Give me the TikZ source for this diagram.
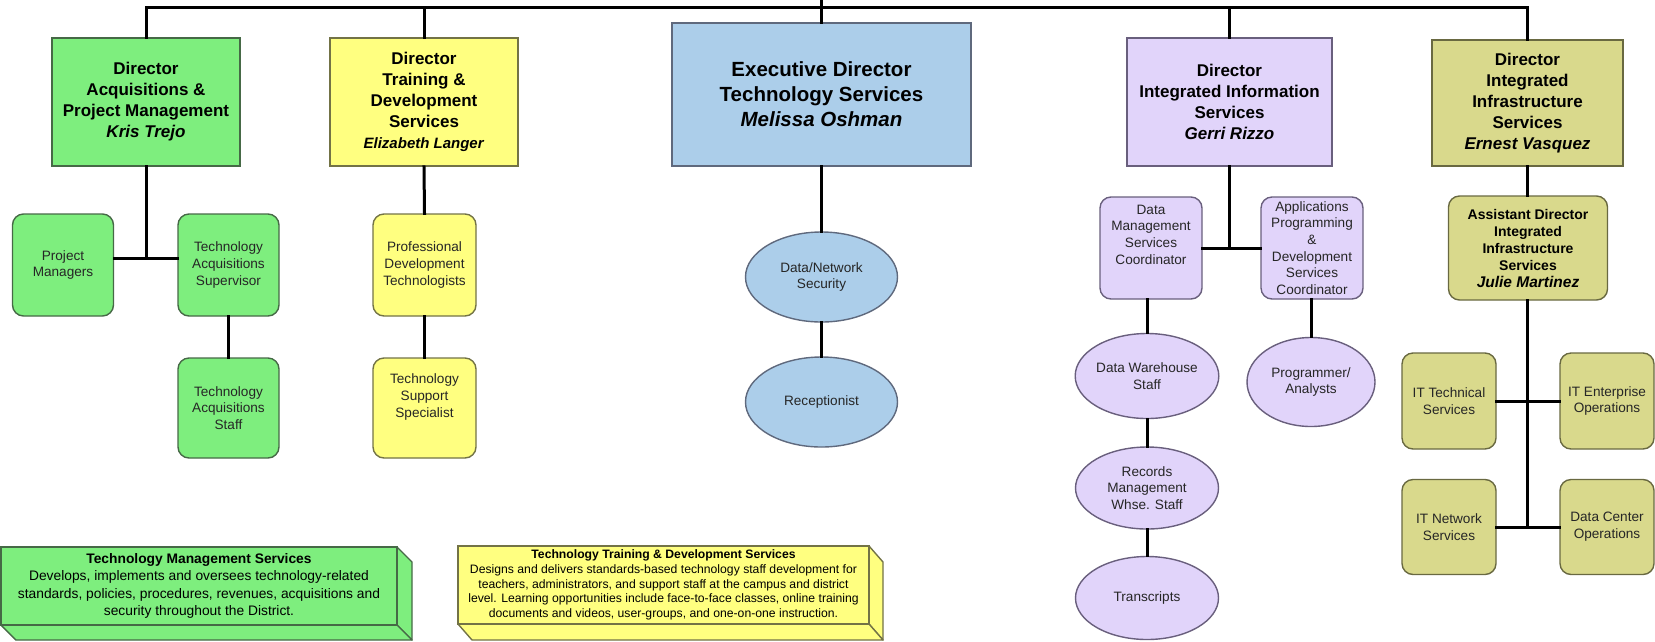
\documentclass[tikz,border=0pt]{standalone}
\usepackage{fontspec}
\setmainfont{Liberation Sans}
\usetikzlibrary{shapes.geometric}
\definecolor{cgreen}{RGB}{126,238,126}
\definecolor{bgreen}{RGB}{70,105,70}
\definecolor{cyellow}{RGB}{255,255,128}
\definecolor{byellow}{RGB}{115,115,70}
\definecolor{cblue}{RGB}{172,206,234}
\definecolor{bblue}{RGB}{95,105,125}
\definecolor{clav}{RGB}{225,212,250}
\definecolor{blav}{RGB}{105,95,125}
\definecolor{colive}{RGB}{217,217,140}
\definecolor{bolive}{RGB}{105,105,65}
\begin{document}
\begin{tikzpicture}[x=1pt,y=-1pt,
  dirbox/.style={draw, rectangle, line width=1.6pt, inner sep=0pt, align=center,
    font=\bfseries\fontsize{17}{21}\selectfont},
  smallbox/.style={draw, rectangle, rounded corners=11pt, line width=1.4pt, inner sep=0pt,
    align=center, text=black!85, font=\fontsize{13.6}{16.7}\selectfont},
  oval/.style={draw, ellipse, line width=1.4pt, inner sep=0pt, align=center,
    text=black!85, font=\fontsize{13.6}{16.7}\selectfont},
  note/.style={draw, rectangle, line width=1.4pt, inner sep=0pt, align=center},
  conn/.style={line width=3pt, line join=miter, line cap=rect},
  green/.style={fill=cgreen, draw=bgreen},
  yellow/.style={fill=cyellow, draw=byellow},
  blue/.style={fill=cblue, draw=bblue},
  lav/.style={fill=clav, draw=blav},
  olive/.style={fill=colive, draw=bolive}]
\useasboundingbox (0,0) rectangle (1655,641);

% ---- Directors ----
\node[dirbox, green, minimum width=188pt, minimum height=128pt] (acq) at (146,102)
  {Director\\Acquisitions \&\\Project Management\\\textit{Kris Trejo}};
\node[dirbox, yellow, minimum width=188pt, minimum height=128pt] (trn) at (424,102)
  {Director\\Training \&\\Development\\Services\\{\fontsize{15}{20}\selectfont\textit{Elizabeth Langer}}};
\node[dirbox, blue, minimum width=299pt, minimum height=143pt,
  font=\bfseries\fontsize{20.5}{25}\selectfont] (exe) at (821.5,94.5)
  {Executive Director\\Technology Services\\\textit{Melissa Oshman}};
\node[dirbox, lav, minimum width=205pt, minimum height=128pt] (iis) at (1229.5,102)
  {Director\\Integrated Information\\Services\\\textit{Gerri Rizzo}};
\node[dirbox, olive, minimum width=191pt, minimum height=126pt] (inf) at (1527.5,103)
  {Director\\Integrated\\Infrastructure\\Services\\\textit{Ernest Vasquez}};

% ---- Acquisitions ----
\node[smallbox, green, minimum width=101pt, minimum height=102pt] (pm) at (63,265) {Project\\Managers};
\node[smallbox, green, minimum width=101pt, minimum height=102pt] (tas) at (228.5,265) {Technology\\Acquisitions\\Supervisor};
\node[smallbox, green, minimum width=101pt, minimum height=100pt] (tast) at (228.5,408) {Technology\\Acquisitions\\Staff};

% ---- Training ----
\node[smallbox, yellow, minimum width=103pt, minimum height=102pt] (pdt) at (424.5,265) {Professional\\Development\\Technologists};
\node[smallbox, yellow, minimum width=103pt, minimum height=100pt] (tss) at (424.5,408) {Technology\\Support\\Specialist\\[8pt]};

% ---- Executive ----
\node[oval, blue, minimum width=152pt, minimum height=90pt] (dns) at (821.5,277) {Data/Network\\Security};
\node[oval, blue, minimum width=152pt, minimum height=90pt] (rec) at (821.5,402) {Receptionist};

% ---- Integrated Information ----
\node[smallbox, lav, minimum width=102pt, minimum height=102pt] (dmsc) at (1151,248) {Data\\Management\\Services\\Coordinator\\[10pt]};
\node[smallbox, lav, minimum width=102pt, minimum height=102pt] (apdsc) at (1312,248)
  {Applications\\Programming\\\&\\Development\\Services\\Coordinator};
\node[oval, lav, minimum width=143pt, minimum height=85pt] (dws) at (1147,376) {Data Warehouse\\Staff};
\node[oval, lav, minimum width=143pt, minimum height=82pt] (rmw) at (1147,488) {Records\\Management\\Whse. Staff};
\node[oval, lav, minimum width=143pt, minimum height=83pt] (trs) at (1147,598) {Transcripts};
\node[oval, lav, minimum width=128pt, minimum height=89pt] (pa) at (1311,382) {Programmer/\\Analysts};

% ---- Infrastructure ----
\node[smallbox, olive, minimum width=159pt, minimum height=104pt,
  font=\bfseries\fontsize{14}{17}\selectfont, text=black] (ad) at (1528,248)
  {Assistant Director\\Integrated\\Infrastructure\\Services\\{\fontsize{15.5}{19}\selectfont\textit{Julie Martinez}}};
\node[smallbox, olive, minimum width=94pt, minimum height=96pt] (itt) at (1449,401) {IT Technical\\Services};
\node[smallbox, olive, minimum width=94pt, minimum height=96pt] (ite) at (1607,401) {IT Enterprise\\Operations};
\node[smallbox, olive, minimum width=94pt, minimum height=95pt] (itn) at (1449,527) {IT Network\\Services};
\node[smallbox, olive, minimum width=94pt, minimum height=95pt] (dco) at (1607,527) {Data Center\\Operations};

% ---- Notes ----
\draw[green, line width=1.4pt, line join=round] (199,547) ++(198,0) -- ++(15,15) -- ++(0,78) -- ++(-15,-15) -- cycle;
\draw[green, line width=1.4pt, line join=round] (1,625) -- ++(396,0) -- ++(15,15) -- ++(-396,0) -- cycle;
\node[note, green, minimum width=396pt, minimum height=78pt,
  font=\fontsize{13.8}{17.4}\selectfont] (tms) at (199,586)
  {\textbf{Technology Management Services}\\Develops, implements and oversees technology-related\\standards, policies, procedures, revenues, acquisitions and\\security throughout the District.};

\draw[yellow, line width=1.4pt, line join=round] (869,546) -- ++(14,16) -- ++(0,78) -- ++(-14,-16) -- cycle;
\draw[yellow, line width=1.4pt, line join=round] (458,624) -- ++(411,0) -- ++(14,16) -- ++(-411,0) -- cycle;
\node[note, yellow, minimum width=411pt, minimum height=78pt,
  font=\fontsize{12.2}{14.8}\selectfont] (ttd) at (663.5,585)
  {\textbf{Technology Training \& Development Services}\\Designs and delivers standards-based technology staff development for\\teachers, administrators, and support staff at the campus and district\\level. Learning opportunities include face-to-face classes, online training\\documents and videos, user-groups, and one-on-one instruction.};

% ---- Connectors ----
\coordinate (topin) at (821.5,0);
\coordinate (bar) at (0,7.5);
\draw[conn] (acq.north) -- (acq.north |- bar) -- (inf.north |- bar) -- (inf.north);
\draw[conn] (topin) -- (exe.north);
\draw[conn] (trn.north |- bar) -- (trn.north);
\draw[conn] (iis.north |- bar) -- (iis.north);

\coordinate (acqj) at (146,258);
\draw[conn] (acq.south) -- (acqj);
\draw[conn] (pm.east |- acqj) -- (tas.west |- acqj);
\draw[conn] (tas.south) -- (tast.north);

\draw[conn] (trn.south) -- (pdt.north);
\draw[conn] (pdt.south) -- (tss.north);

\draw[conn] (exe.south) -- (dns.north);
\draw[conn] (dns.south) -- (rec.north);

\coordinate (iisj) at (1229.5,248);
\draw[conn] (iis.south) -- (iisj);
\draw[conn] (dmsc.east) -- (apdsc.west);
\draw[conn] (dws.north |- dmsc.south) -- (dws.north);
\draw[conn] (pa.north |- apdsc.south) -- (pa.north);
\draw[conn] (dws.south) -- (rmw.north);
\draw[conn] (rmw.south) -- (trs.north);

\coordinate (infj) at (1527.5,527);
\draw[conn] (inf.south) -- (inf.south |- ad.north);
\draw[conn] (inf.south |- ad.south) -- (infj);
\draw[conn] (itt.east) -- (ite.west);
\draw[conn] (itn.east) -- (dco.west);
\end{tikzpicture}
\end{document}
